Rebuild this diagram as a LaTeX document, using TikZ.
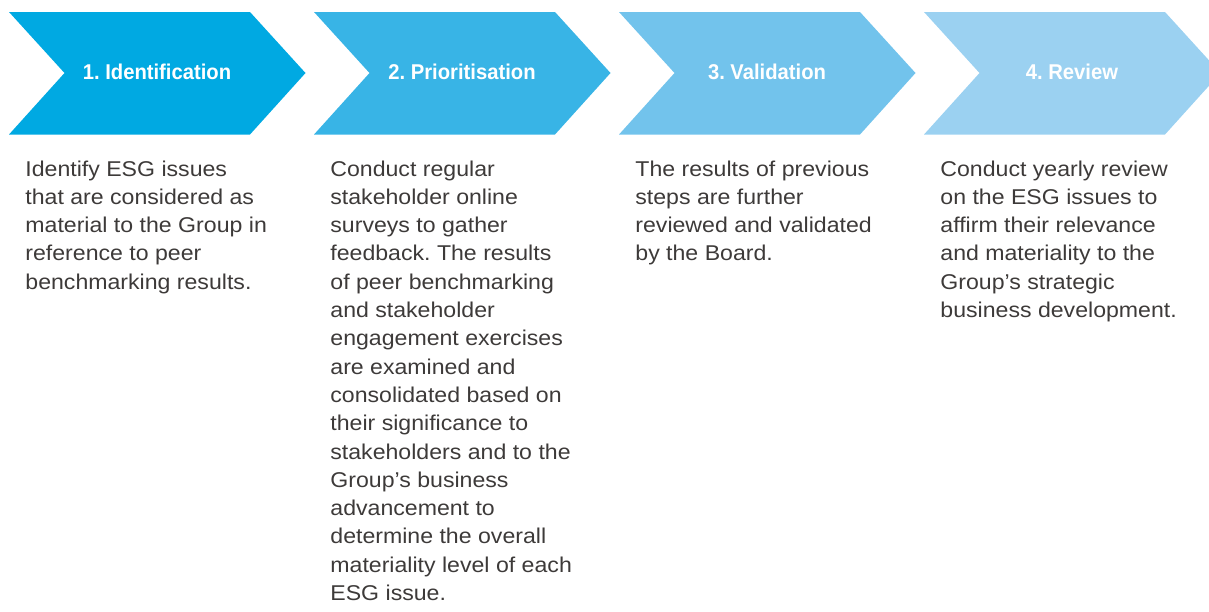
\documentclass[tikz,border=0pt]{standalone}
\usepackage{fontspec}
\setmainfont{Liberation Sans}[FakeStretch=1.08]
\newfontfamily\headfont{Liberation Sans}[FakeStretch=0.945]
\frenchspacing
\definecolor{stepone}{HTML}{00A9E2}
\definecolor{steptwo}{HTML}{38B4E6}
\definecolor{stepthree}{HTML}{72C3EC}
\definecolor{stepfour}{HTML}{9BD1F1}
\definecolor{bodygray}{HTML}{3D3A39}
\tikzset{head/.style={text=white, inner sep=0pt, anchor=base, font=\headfont\bfseries\fontsize{10.7}{12}\selectfont},
         body/.style={text=bodygray, inner sep=0pt, anchor=base west, align=left, font=\fontsize{10.7}{14.15}\selectfont}}

\begin{document}
\begin{tikzpicture}[x=0.5pt,y=-0.5pt]
\useasboundingbox (0,0) rectangle (1209,611);
\clip (0,0) rectangle (1209,611);

%arrows
\fill[stepone]   (9,12)--(250,12)--(305.5,73)--(250,134.5)--(9,134.5)--(64.5,73)--cycle;
\fill[steptwo]   (314,12)--(555,12)--(610.5,73)--(555,134.5)--(314,134.5)--(369.5,73)--cycle;
\fill[stepthree] (619,12)--(860,12)--(915.5,73)--(860,134.5)--(619,134.5)--(674.5,73)--cycle;
\fill[stepfour]  (924,12)--(1165,12)--(1220.5,73)--(1165,134.5)--(924,134.5)--(979.5,73)--cycle;

%titles
\node[head] (I) at (157,79.3)  {1. Identification};
\node[head] (P) at (462,79.3)  {2. Prioritisation};
\node[head] (V) at (767,79.3)  {3. Validation};
\node[head] (R) at (1072,79.3) {4. Review};

%texts (placed at the baseline of their last line)
\node[body] (i) at (25,289.2)  {Identify ESG issues\\that are considered as\\material to the Group in\\reference to peer\\benchmarking results.};
\node[body] (p) at (330,600.5) {Conduct regular\\stakeholder online\\surveys to gather\\feedback. The results\\of peer benchmarking\\and stakeholder\\engagement exercises\\are examined and\\consolidated based on\\their significance to\\stakeholders and to the\\Group’s business\\advancement to\\determine the overall\\materiality level of each\\ESG issue.};
\node[body] (v) at (635,260.9) {The results of previous\\steps are further\\reviewed and validated\\by the Board.};
\node[body] (r) at (940,317.5) {Conduct yearly review\\on the ESG issues to\\affirm their relevance\\and materiality to the\\Group’s strategic\\business development.};
\end{tikzpicture}
\end{document}
